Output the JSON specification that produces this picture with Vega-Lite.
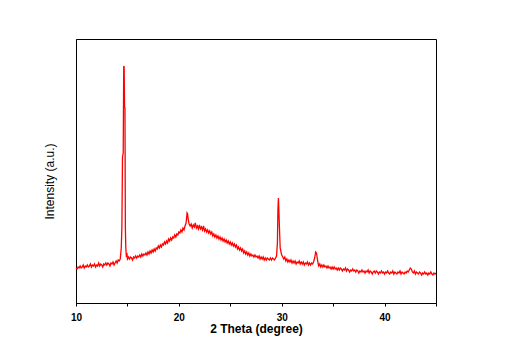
{
  "$schema": "https://vega.github.io/schema/vega-lite/v6.json",
  "autosize": "none",
  "width": 360,
  "height": 264,
  "padding": {"left": 76, "top": 39, "right": 73, "bottom": 54},
  "background": "white",
  "config": {
    "view": {"stroke": "black", "strokeWidth": 1},
    "axis": {"grid": false, "domainColor": "black", "tickColor": "black", "labelColor": "black", "titleColor": "black", "labelFont": "Liberation Sans", "titleFont": "Liberation Sans"}
  },
  "data": {"values": [
    {"t":10.0,"i":35},{"t":10.1,"i":34},{"t":10.2,"i":36},{"t":10.3,"i":35},{"t":10.4,"i":37},{"t":10.5,"i":35},{"t":10.6,"i":36},{"t":10.7,"i":38},{"t":10.8,"i":35},{"t":10.9,"i":37},
    {"t":11.0,"i":36},{"t":11.1,"i":38},{"t":11.2,"i":36},{"t":11.3,"i":37},{"t":11.4,"i":39},{"t":11.5,"i":36},{"t":11.6,"i":38},{"t":11.7,"i":37},{"t":11.8,"i":39},{"t":11.9,"i":36},
    {"t":12.0,"i":38},{"t":12.1,"i":37},{"t":12.2,"i":40},{"t":12.3,"i":37},{"t":12.4,"i":39},{"t":12.5,"i":38},{"t":12.6,"i":36},{"t":12.7,"i":39},{"t":12.8,"i":38},{"t":12.9,"i":40},
    {"t":13.0,"i":38},{"t":13.1,"i":40},{"t":13.2,"i":39},{"t":13.3,"i":37},{"t":13.4,"i":40},{"t":13.5,"i":39},{"t":13.6,"i":41},{"t":13.7,"i":38},{"t":13.8,"i":40},{"t":13.9,"i":42},
    {"t":14.0,"i":40},{"t":14.1,"i":43},{"t":14.2,"i":42},{"t":14.3,"i":44},{"t":14.4,"i":55},{"t":14.46,"i":75},{"t":14.52,"i":146},{"t":14.59,"i":150},{"t":14.64,"i":237},{"t":14.68,"i":236},
    {"t":14.72,"i":196},{"t":14.76,"i":195},{"t":14.8,"i":75},{"t":14.84,"i":56},{"t":14.9,"i":46},{"t":14.95,"i":50},
    {"t":15.0,"i":44},{"t":15.1,"i":46},{"t":15.2,"i":44},{"t":15.3,"i":46},{"t":15.4,"i":45},{"t":15.5,"i":43},{"t":15.6,"i":46},{"t":15.7,"i":45},{"t":15.8,"i":47},{"t":15.9,"i":45},
    {"t":16.0,"i":47},{"t":16.1,"i":46},{"t":16.2,"i":48},{"t":16.3,"i":46},{"t":16.4,"i":49},{"t":16.5,"i":47},{"t":16.6,"i":49},{"t":16.7,"i":48},{"t":16.8,"i":50},{"t":16.9,"i":48},
    {"t":17.0,"i":51},{"t":17.1,"i":49},{"t":17.2,"i":52},{"t":17.3,"i":50},{"t":17.4,"i":53},{"t":17.5,"i":51},{"t":17.6,"i":54},{"t":17.7,"i":52},{"t":17.8,"i":55},{"t":17.9,"i":54},
    {"t":18.0,"i":57},{"t":18.1,"i":55},{"t":18.2,"i":58},{"t":18.3,"i":56},{"t":18.4,"i":59},{"t":18.5,"i":58},{"t":18.6,"i":61},{"t":18.7,"i":59},{"t":18.8,"i":62},{"t":18.9,"i":60},
    {"t":19.0,"i":64},{"t":19.1,"i":62},{"t":19.2,"i":65},{"t":19.3,"i":63},{"t":19.4,"i":66},{"t":19.5,"i":65},{"t":19.6,"i":68},{"t":19.7,"i":66},{"t":19.8,"i":69},{"t":19.9,"i":68},
    {"t":20.0,"i":71},{"t":20.1,"i":70},{"t":20.2,"i":73},{"t":20.3,"i":71},{"t":20.4,"i":75},{"t":20.5,"i":73},{"t":20.6,"i":77},{"t":20.7,"i":80},{"t":20.8,"i":90},{"t":20.85,"i":89},
    {"t":20.9,"i":84},{"t":21.0,"i":79},{"t":21.1,"i":77},{"t":21.2,"i":79},{"t":21.3,"i":75},{"t":21.4,"i":78},{"t":21.5,"i":76},{"t":21.6,"i":80},{"t":21.7,"i":75},{"t":21.8,"i":77},{"t":21.9,"i":74},
    {"t":22.0,"i":78},{"t":22.1,"i":74},{"t":22.2,"i":76},{"t":22.3,"i":73},{"t":22.4,"i":77},{"t":22.5,"i":72},{"t":22.6,"i":74},{"t":22.7,"i":71},{"t":22.8,"i":73},{"t":22.9,"i":70},
    {"t":23.0,"i":72},{"t":23.1,"i":69},{"t":23.2,"i":71},{"t":23.3,"i":67},{"t":23.4,"i":69},{"t":23.5,"i":66},{"t":23.6,"i":68},{"t":23.7,"i":65},{"t":23.8,"i":67},{"t":23.9,"i":64},
    {"t":24.0,"i":66},{"t":24.1,"i":63},{"t":24.2,"i":65},{"t":24.3,"i":62},{"t":24.4,"i":64},{"t":24.5,"i":61},{"t":24.6,"i":63},{"t":24.7,"i":60},{"t":24.8,"i":62},{"t":24.9,"i":59},
    {"t":25.0,"i":61},{"t":25.1,"i":58},{"t":25.2,"i":60},{"t":25.3,"i":57},{"t":25.4,"i":59},{"t":25.5,"i":56},{"t":25.6,"i":58},{"t":25.7,"i":54},{"t":25.8,"i":56},{"t":25.9,"i":53},
    {"t":26.0,"i":55},{"t":26.1,"i":52},{"t":26.2,"i":54},{"t":26.3,"i":50},{"t":26.4,"i":52},{"t":26.5,"i":49},{"t":26.6,"i":51},{"t":26.7,"i":48},{"t":26.8,"i":50},{"t":26.9,"i":47},
    {"t":27.0,"i":49},{"t":27.1,"i":47},{"t":27.2,"i":48},{"t":27.3,"i":46},{"t":27.4,"i":48},{"t":27.5,"i":46},{"t":27.6,"i":47},{"t":27.7,"i":45},{"t":27.8,"i":47},{"t":27.9,"i":44},
    {"t":28.0,"i":46},{"t":28.1,"i":44},{"t":28.2,"i":46},{"t":28.3,"i":43},{"t":28.4,"i":45},{"t":28.5,"i":43},{"t":28.6,"i":45},{"t":28.7,"i":44},{"t":28.8,"i":43},{"t":28.9,"i":45},
    {"t":29.0,"i":43},{"t":29.1,"i":45},{"t":29.2,"i":44},{"t":29.3,"i":43},{"t":29.4,"i":45},{"t":29.5,"i":47},{"t":29.58,"i":60},{"t":29.63,"i":93},{"t":29.68,"i":105},{"t":29.72,"i":94},
    {"t":29.78,"i":75},{"t":29.85,"i":55},{"t":29.95,"i":50},{"t":30.0,"i":48},{"t":30.1,"i":46},{"t":30.2,"i":44},{"t":30.3,"i":46},{"t":30.4,"i":42},{"t":30.5,"i":44},{"t":30.6,"i":41},
    {"t":30.7,"i":43},{"t":30.8,"i":41},{"t":30.9,"i":43},{"t":31.0,"i":40},{"t":31.1,"i":42},{"t":31.2,"i":40},{"t":31.3,"i":42},{"t":31.4,"i":39},{"t":31.5,"i":41},{"t":31.6,"i":40},
    {"t":31.7,"i":42},{"t":31.8,"i":39},{"t":31.9,"i":41},{"t":32.0,"i":39},{"t":32.1,"i":41},{"t":32.2,"i":38},{"t":32.3,"i":40},{"t":32.4,"i":39},{"t":32.5,"i":41},{"t":32.6,"i":38},
    {"t":32.7,"i":40},{"t":32.8,"i":38},{"t":32.9,"i":40},{"t":33.0,"i":39},{"t":33.1,"i":41},{"t":33.2,"i":45},{"t":33.3,"i":51},{"t":33.38,"i":50},{"t":33.45,"i":45},{"t":33.55,"i":39},
    {"t":33.6,"i":37},{"t":33.7,"i":39},{"t":33.8,"i":36},{"t":33.9,"i":38},{"t":34.0,"i":36},{"t":34.1,"i":38},{"t":34.2,"i":36},{"t":34.3,"i":37},{"t":34.4,"i":35},{"t":34.5,"i":37},
    {"t":34.6,"i":35},{"t":34.7,"i":36},{"t":34.8,"i":34},{"t":34.9,"i":36},{"t":35.0,"i":34},{"t":35.1,"i":36},{"t":35.2,"i":34},{"t":35.3,"i":35},{"t":35.4,"i":33},{"t":35.5,"i":35},
    {"t":35.6,"i":33},{"t":35.7,"i":35},{"t":35.8,"i":34},{"t":35.9,"i":32},{"t":36.0,"i":34},{"t":36.1,"i":33},{"t":36.2,"i":35},{"t":36.3,"i":32},{"t":36.4,"i":34},{"t":36.5,"i":33},
    {"t":36.6,"i":31},{"t":36.7,"i":33},{"t":36.8,"i":32},{"t":36.9,"i":34},{"t":37.0,"i":32},{"t":37.1,"i":33},{"t":37.2,"i":31},{"t":37.3,"i":33},{"t":37.4,"i":32},{"t":37.5,"i":30},
    {"t":37.6,"i":32},{"t":37.7,"i":31},{"t":37.8,"i":33},{"t":37.9,"i":31},{"t":38.0,"i":32},{"t":38.1,"i":30},{"t":38.2,"i":32},{"t":38.3,"i":31},{"t":38.4,"i":33},{"t":38.5,"i":30},
    {"t":38.6,"i":32},{"t":38.7,"i":31},{"t":38.8,"i":29},{"t":38.9,"i":31},{"t":39.0,"i":32},{"t":39.1,"i":30},{"t":39.2,"i":32},{"t":39.3,"i":31},{"t":39.4,"i":29},{"t":39.5,"i":31},
    {"t":39.6,"i":30},{"t":39.7,"i":32},{"t":39.8,"i":30},{"t":39.9,"i":31},{"t":40.0,"i":29},{"t":40.1,"i":31},{"t":40.2,"i":30},{"t":40.3,"i":32},{"t":40.4,"i":30},{"t":40.5,"i":29},
    {"t":40.6,"i":31},{"t":40.7,"i":30},{"t":40.8,"i":32},{"t":40.9,"i":29},{"t":41.0,"i":31},{"t":41.1,"i":30},{"t":41.2,"i":29},{"t":41.3,"i":31},{"t":41.4,"i":30},{"t":41.5,"i":32},
    {"t":41.6,"i":29},{"t":41.7,"i":31},{"t":41.8,"i":30},{"t":41.9,"i":29},{"t":42.0,"i":31},{"t":42.1,"i":30},{"t":42.2,"i":32},{"t":42.3,"i":31},{"t":42.4,"i":33},{"t":42.5,"i":35},
    {"t":42.6,"i":34},{"t":42.7,"i":31},{"t":42.8,"i":30},{"t":42.9,"i":32},{"t":43.0,"i":29},{"t":43.1,"i":31},{"t":43.2,"i":30},{"t":43.3,"i":29},{"t":43.4,"i":31},{"t":43.5,"i":30},
    {"t":43.6,"i":28},{"t":43.7,"i":30},{"t":43.8,"i":29},{"t":43.9,"i":31},{"t":44.0,"i":29},{"t":44.1,"i":30},{"t":44.2,"i":28},{"t":44.3,"i":30},{"t":44.4,"i":29},{"t":44.5,"i":31},
    {"t":44.6,"i":29},{"t":44.7,"i":28},{"t":44.8,"i":30},{"t":44.9,"i":29},{"t":45.0,"i":30}
  ]},
  "mark": {"type": "line", "color": "#FF0000", "strokeWidth": 1.3, "interpolate": "linear"},
  "encoding": {
    "x": {
      "field": "t", "type": "quantitative",
      "scale": {"domain": [10, 45], "nice": false, "zero": false},
      "axis": {
        "title": "2 Theta (degree)",
        "values": [10, 15, 20, 25, 30, 35, 40, 45],
        "labelExpr": "datum.value % 10 == 0 ? datum.label : ''",
        "labelFlush": false,
        "labelFontSize": 10, "labelFontWeight": "bold",
        "labelPadding": 6, "tickSize": 3,
        "titleFontSize": 12, "titleFontWeight": "bold", "titlePadding": 1
      }
    },
    "y": {
      "field": "i", "type": "quantitative",
      "scale": {"domain": [0, 264], "nice": false, "zero": false},
      "axis": {
        "title": "Intensity (a.u.)",
        "ticks": false, "labels": false,
        "titleFontSize": 12, "titleFontWeight": "normal", "titlePadding": 20,
        "titleY": 142
      }
    }
  }
}
